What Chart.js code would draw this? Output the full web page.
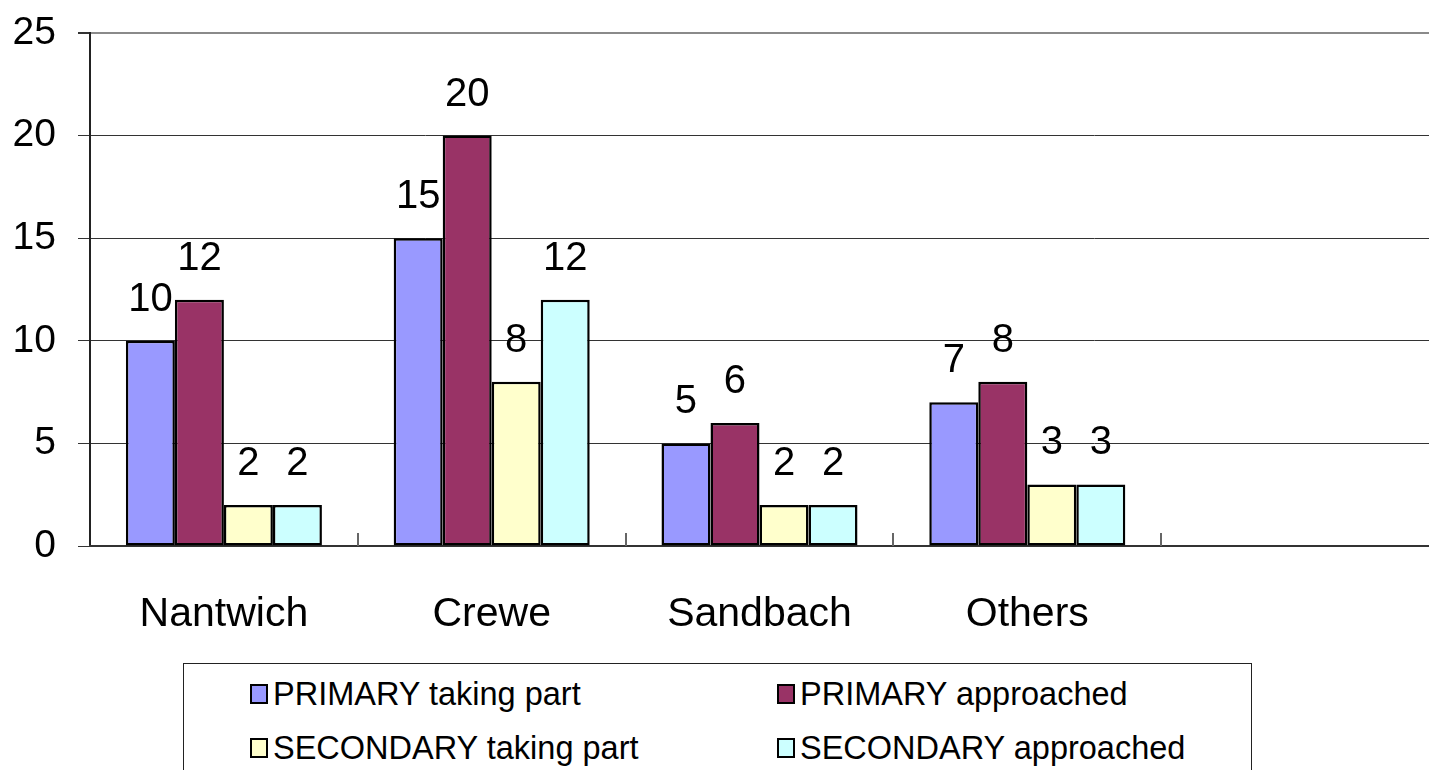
<!DOCTYPE html>
<html>
<head>
<meta charset="utf-8">
<script src="https://cdn.jsdelivr.net/npm/chart.js@4/dist/chart.umd.min.js"></script>
<style>
  html, body { margin: 0; padding: 0; background: #fff; overflow: hidden; }
  #wrap { position: relative; width: 1429px; height: 770px; }
  #chartBox { position: absolute; left: 0; top: 0; width: 1429px; height: 660px; }
  #legend {
    position: absolute; left: 183px; top: 663px; width: 1069px; height: 130px;
    border: 1px solid #222; box-sizing: border-box;
    display: grid; grid-template-columns: 527px 527px; grid-template-rows: 54px 54px;
    padding-left: 66px; padding-top: 3px;
    font-family: "Liberation Sans", Arial, sans-serif; font-size: 32.5px; color: #000;
  }
  .item { display: flex; align-items: center; white-space: nowrap; }
  .swatch { width: 14px; height: 16px; border: 2px solid #000; margin-right: 5px; flex: none; }
</style>
</head>
<body>
<div id="wrap">
  <div id="chartBox"><canvas id="grafico"></canvas></div>
  <div id="legend"></div>
</div>
<script>
// Dados
const categorias = ['Nantwich', 'Crewe', 'Sandbach', 'Others', ''];
const primaryTaking = [10, 15, 5, 7, null];
const primaryApproached = [12, 20, 6, 8, null];
const secondaryTaking = [2, 8, 2, 3, null];
const secondaryApproached = [2, 12, 2, 3, null];
const yTicks = [0, 5, 10, 15, 20, 25];

const fonte = '"Liberation Sans", Arial, sans-serif';

// valores acima das barras
const valoresPlugin = {
  id: 'valores',
  afterDatasetsDraw(chart) {
    const ctx = chart.ctx;
    ctx.save();
    ctx.font = '40px ' + fonte;
    ctx.fillStyle = '#000';
    ctx.textAlign = 'center';
    ctx.textBaseline = 'middle';
    chart.data.datasets.forEach((ds, i) => {
      chart.getDatasetMeta(i).data.forEach((bar, j) => {
        const v = ds.data[j];
        if (v === null || v === undefined) return;
        ctx.fillText(String(v), bar.x, bar.y - 41);
      });
    });
    ctx.restore();
  }
};

// marcas do eixo x (para dentro)
const marcasPlugin = {
  id: 'marcas',
  afterDraw(chart) {
    const x = chart.scales.x;
    const ctx = chart.ctx;
    const n = chart.data.labels.length;
    ctx.save();
    ctx.strokeStyle = '#666';
    ctx.lineWidth = 2;
    for (let i = 1; i < n; i++) {
      const px = Math.round(x.left + i * x.width / n);
      ctx.beginPath();
      ctx.moveTo(px, x.top - 13);
      ctx.lineTo(px, x.top);
      ctx.stroke();
    }
    ctx.restore();
  }
};

const ctxGraf = document.getElementById('grafico');
const chart = new Chart(ctxGraf, {
  type: 'bar',
  data: {
    labels: categorias,
    datasets: [
      { label: 'PRIMARY taking part', data: primaryTaking, backgroundColor: '#9999FF' },
      { label: 'PRIMARY approached', data: primaryApproached, backgroundColor: '#993366' },
      { label: 'SECONDARY taking part', data: secondaryTaking, backgroundColor: '#FFFFCC' },
      { label: 'SECONDARY approached', data: secondaryApproached, backgroundColor: '#CCFFFF' }
    ].map(d => Object.assign(d, {
      borderColor: '#000',
      borderWidth: 2.5,
      borderSkipped: false,
      categoryPercentage: 0.732,
      barPercentage: 1
    }))
  },
  options: {
    responsive: true,
    maintainAspectRatio: false,
    animation: false,
    layout: { padding: { left: 13, top: 33, right: 0, bottom: 0 } },
    plugins: {
      legend: { display: false },
      tooltip: { enabled: false }
    },
    scales: {
      y: {
        min: 0,
        max: 25,
        afterBuildTicks(scale) { scale.ticks = yTicks.map(v => ({ value: v })); },
        afterFit(scale) {
          scale.width = 77;
          scale.paddingTop = 0;
          scale.paddingBottom = 0;
        },
        ticks: {
          color: '#000',
          padding: 22,
          font: { family: fonte, size: 39 }
        },
        grid: {
          color: ctx => ctx.tick && ctx.tick.value === 25 ? '#8a8a8a' : '#333',
          lineWidth: ctx => ctx.tick && ctx.tick.value === 25 ? 2 : 1,
          tickLength: 12,
          tickColor: '#333'
        },
        border: { color: '#222', width: 2 }
      },
      x: {
        afterFit(scale) { scale.height = 114; },
        ticks: {
          color: '#000',
          padding: 44,
          font: { family: fonte, size: 41 }
        },
        grid: { display: false, drawTicks: false },
        border: { color: '#333', width: 2 }
      }
    }
  },
  plugins: [valoresPlugin, marcasPlugin]
});

// Legenda em HTML (duas colunas alinhadas)
const legenda = document.getElementById('legend');
chart.data.datasets.forEach(ds => {
  const item = document.createElement('div');
  item.className = 'item';
  const sw = document.createElement('span');
  sw.className = 'swatch';
  sw.style.background = ds.backgroundColor;
  const txt = document.createElement('span');
  txt.textContent = ds.label;
  item.appendChild(sw);
  item.appendChild(txt);
  legenda.appendChild(item);
});
</script>
</body>
</html>
